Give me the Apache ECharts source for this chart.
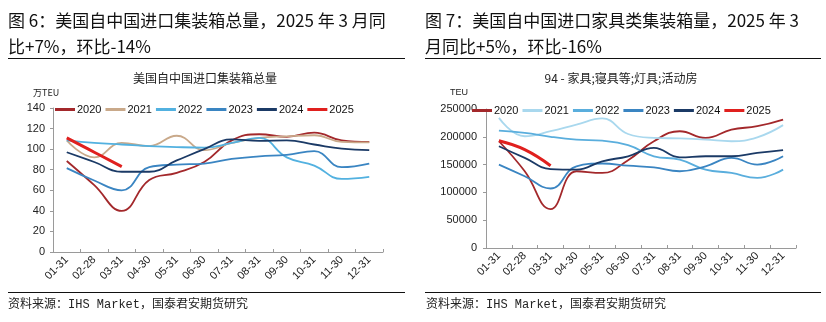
<!DOCTYPE html>
<html>
<head>
<meta charset="utf-8">
<script src="https://cdn.jsdelivr.net/npm/echarts@6/dist/echarts.min.js"></script>
<style>
html,body{margin:0;padding:0;background:#fff;}
#chart{width:826px;height:322px;}
</style>
</head>
<body>
<div id="chart"></div>
<script>
const categories = ['01-31','02-28','03-31','04-30','05-31','06-30','07-31','08-31','09-30','10-31','11-30','12-31'];
const years = ['2020','2021','2022','2023','2024','2025'];

// 美国自中国进口集装箱总量 (万TEU)
const total2020 = [88.5, 65, 40, 70, 77, 87.5, 108.5, 114.5, 112, 116, 108.5, 107];
const total2021 = [108.5, 92, 106, 103, 113, 99, 106, 111, 112.5, 113.5, 107, 106.5];
const total2022 = [108.5, 106, 104.5, 103, 102, 101.5, 106, 111, 92, 84, 71, 73];
const total2023 = [81.5, 69.5, 60, 82.5, 85, 86, 90.5, 93, 94.5, 98, 82.5, 86];
const total2024 = [97, 87.5, 78, 78, 89, 100, 109.5, 108, 108.5, 104.5, 100.5, 99];
const total2025 = [111, 97, 83];

// 94 - 家具;寝具等;灯具;活动房 (TEU)
const furn2020 = [192000, 138000, 70000, 138000, 135000, 158000, 192000, 210000, 198000, 213000, 219000, 231000];
const furn2021 = [234000, 201000, 210000, 222000, 233000, 205000, 198000, 197000, 195000, 192000, 199000, 221000];
const furn2022 = [211000, 207000, 200000, 195000, 193000, 185000, 165000, 159000, 141000, 135000, 126000, 141000];
const furn2023 = [150000, 129000, 107000, 147000, 152000, 148000, 145000, 138000, 147000, 162000, 150000, 165000];
const furn2024 = [183000, 162000, 142000, 141000, 156000, 165000, 180000, 163000, 165000, 165000, 171000, 176000];
const furn2025 = [193000, 177000, 148000];

const leftTitle1 = '图 6：美国自中国进口集装箱总量，2025 年 3 月同';
const leftTitle2 = '比+7%，环比-14%';
const rightTitle1 = '图 7：美国自中国进口家具类集装箱量，2025 年 3';
const rightTitle2 = '月同比+5%，环比-16%';
const leftChartTitle = '美国自中国进口集装箱总量';
const rightChartTitle = '94 - 家具;寝具等;灯具;活动房';
const sourceText = '资料来源：IHS Market，国泰君安期货研究';

const leftColors = ['#A3282B', '#C9A98A', '#52B1E0', '#3A85C2', '#1B3A66', '#E0201E'];
const rightColors = ['#A3282B', '#A9D8EE', '#5AAEDD', '#3A85C2', '#1B3A66', '#E0201E'];

const totalData = [total2020, total2021, total2022, total2023, total2024, total2025];
const furnData = [furn2020, furn2021, furn2022, furn2023, furn2024, furn2025];

const numFont = 'Liberation Sans, Arial, sans-serif';
const cjkFont = '"Noto Sans CJK SC", sans-serif';

function makeSeries(dataSets, colors, idx) {
  return years.map((y, i) => ({
    name: y,
    type: 'line',
    xAxisIndex: idx,
    yAxisIndex: idx,
    data: dataSets[i],
    smooth: 0.45,
    symbol: 'none',
    color: colors[i],
    lineStyle: { width: i === 5 ? 3 : 1.8, color: colors[i] },
    z: i === 5 ? 5 : 3
  }));
}

function xAxisCfg(idx) {
  return {
    type: 'category',
    gridIndex: idx,
    data: categories,
    boundaryGap: true,
    axisLine: { lineStyle: { color: '#9a9a9a', width: 1 } },
    axisTick: { show: true, inside: true, length: 3, lineStyle: { color: '#9a9a9a' } },
    axisLabel: { rotate: 45, fontSize: 11, color: '#222', fontFamily: numFont, margin: 6, interval: 0 }
  };
}

function yAxisCfg(idx, max, interval, margin) {
  return {
    type: 'value',
    gridIndex: idx,
    min: 0, max: max, interval: interval,
    axisLine: { show: true, lineStyle: { color: '#9a9a9a', width: 1 } },
    axisTick: { show: true, length: 3, lineStyle: { color: '#9a9a9a' } },
    splitLine: { show: false },
    axisLabel: { fontSize: 11, color: '#222', fontFamily: numFont, margin: margin, formatter: v => String(v) }
  };
}

function legendCfg(left, top, colors) {
  return {
    left: left, top: top,
    itemWidth: 20, itemHeight: 3, itemGap: 4,
    icon: 'rect',
    data: years.map((y, i) => ({ name: y, itemStyle: { color: colors[i] } })),
    textStyle: { fontSize: 11, color: '#111', fontFamily: numFont, padding: [0, 0, 0, -3] },
    selectedMode: false
  };
}

const chart = echarts.init(document.getElementById('chart'), null, { renderer: 'canvas' });

const option = {
  animation: false,
  backgroundColor: '#fff',
  grid: [
    { left: 53, top: 108, width: 330, height: 144 },
    { left: 486, top: 109, width: 310, height: 139 }
  ],
  xAxis: [xAxisCfg(0), xAxisCfg(1)],
  yAxis: [yAxisCfg(0, 140, 20, 8), yAxisCfg(1, 250000, 50000, 9)],
  legend: [],
  series: [],
  graphic: [
    { type: 'text', left: 8, top: 12, style: { text: leftTitle1, font: '17px ' + cjkFont, fill: '#111' } },
    { type: 'text', left: 8, top: 38, style: { text: leftTitle2, font: '17px ' + cjkFont, fill: '#111' } },
    { type: 'text', left: 425, top: 12, style: { text: rightTitle1, font: '17px ' + cjkFont, fill: '#111' } },
    { type: 'text', left: 425, top: 38, style: { text: rightTitle2, font: '17px ' + cjkFont, fill: '#111' } },
    { type: 'line', shape: { x1: 8, y1: 58.5, x2: 405, y2: 58.5 }, style: { stroke: '#111', lineWidth: 1.2 } },
    { type: 'line', shape: { x1: 425, y1: 58.5, x2: 821, y2: 58.5 }, style: { stroke: '#111', lineWidth: 1.2 } },
    { type: 'line', shape: { x1: 8, y1: 292.5, x2: 405, y2: 292.5 }, style: { stroke: '#111', lineWidth: 1.2 } },
    { type: 'line', shape: { x1: 425, y1: 292.5, x2: 821, y2: 292.5 }, style: { stroke: '#111', lineWidth: 1.2 } },
    { type: 'text', left: 8, top: 299, style: { text: sourceText, font: '12px "Liberation Mono", ' + cjkFont, fill: '#222' } },
    { type: 'text', left: 426, top: 299, style: { text: sourceText, font: '12px "Liberation Mono", ' + cjkFont, fill: '#222' } },
    { type: 'text', x: 205, y: 78, style: { text: leftChartTitle, font: '12px ' + cjkFont, fill: '#222', align: 'center', verticalAlign: 'middle' } },
    { type: 'text', x: 621, y: 78, style: { text: rightChartTitle, font: '12px ' + cjkFont, fill: '#222', align: 'center', verticalAlign: 'middle' } },
    { type: 'text', x: 33, y: 93, style: { text: '万TEU', font: '9px ' + cjkFont, fill: '#222', verticalAlign: 'middle' } },
    { type: 'text', x: 450, y: 93, style: { text: 'TEU', font: '9px ' + numFont, fill: '#222', verticalAlign: 'middle' } }
  ]
};

option.series = makeSeries(totalData, leftColors, 0).concat(makeSeries(furnData, rightColors, 1));
option.legend = [legendCfg(50, 99, leftColors), legendCfg(467, 100, rightColors)];

chart.setOption(option);
</script>
</body>
</html>
